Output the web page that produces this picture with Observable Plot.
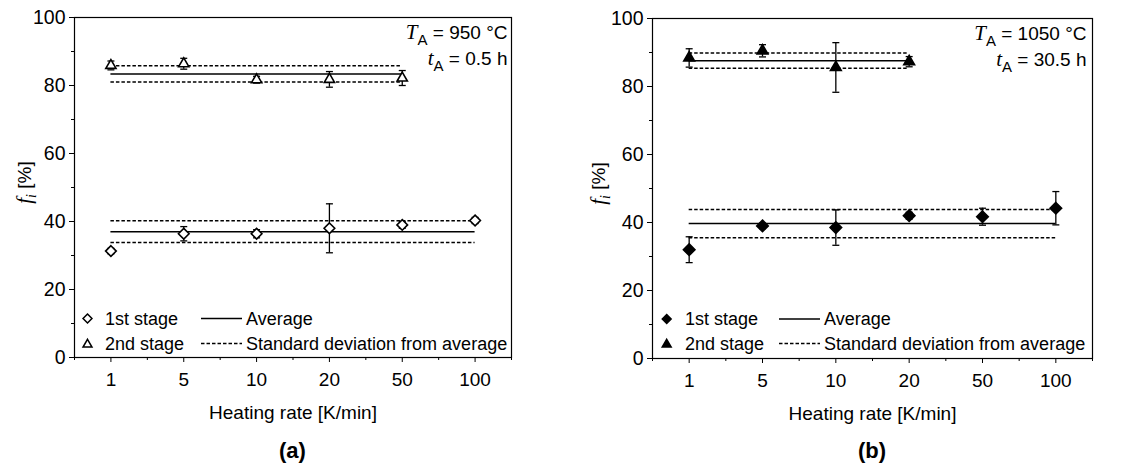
<!DOCTYPE html>
<html><head><meta charset="utf-8">
<script src="https://cdn.jsdelivr.net/npm/d3@7"></script>
<script src="https://cdn.jsdelivr.net/npm/@observablehq/plot@0.6"></script>
<style>
body{margin:0;background:#fff;font-family:"Liberation Sans",Arial,sans-serif;}
#wrap{display:flex;width:1147px;height:472px;overflow:hidden;}
.panel{position:relative;flex:none;}
.cap{text-align:center;font-weight:bold;font-size:22px;line-height:42px;height:42px;box-sizing:border-box;}
.leg{position:absolute;left:0;top:0;pointer-events:none;overflow:visible;}
</style></head><body><div id="wrap"></div>
<script>
// x categories (heating rate, K/min)
const rates = ["1", "5", "10", "20", "50", "100"];
const yTicks = [0, 20, 40, 60, 80, 100];
const yMinor = [10, 30, 50, 70, 90];

// panel (a): T_A = 950 °C, t_A = 0.5 h  (open symbols)
const aFirstRates = ["1", "5", "10", "20", "50", "100"];
const aFirst = [31.3, 36.4, 36.4, 38.0, 39.0, 40.3];
const aFirstErr = [0.8, 2.1, 1.2, 7.2, 1.0, 0.9];
const aFirstAvg = 37.0, aFirstSd = 3.2;
const aSecondRates = ["1", "5", "10", "20", "50"];
const aSecond = [85.9, 86.4, 81.7, 81.8, 82.2];
const aSecondErr = [1.3, 1.6, 1.0, 2.3, 2.2];
const aSecondAvg = 83.4, aSecondSd = 2.4;

// panel (b): T_A = 1050 °C, t_A = 30.5 h  (filled symbols)
const bFirstRates = ["1", "5", "10", "20", "50", "100"];
const bFirst = [32.0, 39.0, 38.5, 42.0, 41.7, 44.2];
const bFirstErr = [3.8, 0.8, 5.2, 1.0, 2.5, 4.9];
const bFirstAvg = 39.7, bFirstSd = 4.15;
const bSecondRates = ["1", "5", "10", "20"];
const bSecond = [88.4, 90.5, 85.6, 87.3];
const bSecondErr = [2.7, 1.8, 7.3, 1.5];
const bSecondAvg = 87.6, bSecondSd = 2.25;

const legendLabels = ["1st stage", "2nd stage", "Average", "Standard deviation from average"];

const SANS = '"Liberation Sans", Arial, sans-serif';
const SERIF = '"Liberation Serif", "Times New Roman", serif';
const NS = "http://www.w3.org/2000/svg";

function rows(rs, vals, errs) {
  return rs.map((r, i) => ({x: rates.indexOf(r), y: vals[i], e: errs[i]}));
}
function lines(rs, avg, sd) {
  const x1 = rates.indexOf(rs[0]), x2 = rates.indexOf(rs[rs.length - 1]);
  return {avg: [{y: avg, x1, x2}], sd: [{y: avg + sd, x1, x2}, {y: avg - sd, x1, x2}]};
}
const capSym = {draw(ctx) { ctx.moveTo(-3.5, 0); ctx.lineTo(3.5, 0); }};

function rich(el, parts) {
  el.textContent = "";
  for (const p of parts) {
    const t = document.createElementNS(NS, "tspan");
    for (const k in p) if (k !== "t") t.setAttribute(k, p[k]);
    t.textContent = p.t;
    el.appendChild(t);
  }
}
function findTexts(root, key) {
  const out = [];
  root.querySelectorAll(`.${key}, [aria-label="${key}"]`).forEach(n => {
    if (n.tagName.toLowerCase() === "text") out.push(n);
    else n.querySelectorAll("text").forEach(t => out.push(t));
  });
  return [...new Set(out)];
}

function panel(cfg) {
  const H = 430;
  const f = rows(cfg.fr, cfg.fv, cfg.fe), s = rows(cfg.sr, cfg.sv, cfg.se);
  const lf = lines(cfg.fr, cfg.fa, cfg.fs), ls = lines(cfg.sr, cfg.sa, cfg.ss);
  const fill = cfg.filled ? "black" : "white";
  const errMarks = (d) => [
    Plot.ruleX(d, {x: "x", y1: r => r.y - r.e, y2: r => r.y + r.e, stroke: "black", strokeWidth: 1.3}),
    Plot.dot(d, {x: "x", y: r => r.y + r.e, symbol: capSym, fill: "none", stroke: "black", strokeWidth: 1.3}),
    Plot.dot(d, {x: "x", y: r => r.y - r.e, symbol: capSym, fill: "none", stroke: "black", strokeWidth: 1.3})
  ];
  const plot = Plot.plot({
    width: cfg.W, height: H,
    marginLeft: cfg.mL, marginRight: cfg.mR, marginTop: cfg.mT, marginBottom: H - cfg.bottom,
    style: {fontFamily: SANS, fontSize: "19px", color: "black", background: "white"},
    x: {type: "linear", domain: [-0.5, 5.5]},
    y: {type: "linear", domain: [0, 100]},
    marks: [
      Plot.axisY({ticks: yTicks, tickSize: 5, tickPadding: 4, label: null, fontSize: 19.5}),
      Plot.axisY({ticks: yMinor, tickSize: 3, tickFormat: () => "", label: null}),
      Plot.axisX({ticks: d3.range(rates.length), tickFormat: i => rates[i], tickSize: 5, tickPadding: 10,
        fontSize: 19, label: "Heating rate [K/min]", labelAnchor: "center", labelArrow: "none", labelOffset: 61}),
      Plot.axisX({ticks: d3.range(rates.length + 1).map(i => i - 0.5), tickSize: 3, tickFormat: () => "", label: null}),
      Plot.ruleY([...lf.avg, ...ls.avg], {y: "y", x1: "x1", x2: "x2", stroke: "black", strokeWidth: 1.5}),
      Plot.ruleY([...lf.sd, ...ls.sd], {y: "y", x1: "x1", x2: "x2", stroke: "black", strokeWidth: 1.5, strokeDasharray: "3.5,2"}),
      ...errMarks(f), ...errMarks(s),
      Plot.dot(f, {x: "x", y: "y", symbol: "diamond2", r: cfg.filled ? 5.2 : 4.8, fill, stroke: "black", strokeWidth: 1.6}),
      Plot.dot(s, {x: "x", y: "y", symbol: "triangle", r: cfg.filled ? 4 : 3.8, fill, stroke: "black", strokeWidth: 1.6}),
      Plot.frame({stroke: "black", strokeWidth: 1.2}),
      Plot.text([cfg.anno[0]], {frameAnchor: "top-right", text: d => d.join(""), textAnchor: "end", lineAnchor: "middle", dx: cfg.annoDx, dy: 15, fontSize: 19, className: "anno"}),
      Plot.text([cfg.anno[1]], {frameAnchor: "top-right", text: d => d.join(""), textAnchor: "end", lineAnchor: "middle", dx: cfg.annoDx, dy: 41, fontSize: 19, className: "anno"}),
      Plot.text(["fi [%]"], {frameAnchor: "left", text: d => d, rotate: -90, textAnchor: "middle", lineAnchor: "middle", dx: cfg.ylabDx, dy: -5, fontSize: 19, className: "ylab"})
    ]
  });
  // rich text: italic serif symbols with subscripts
  findTexts(plot, "anno").forEach((el, i) => {
    const [sym, sub, rest] = cfg.anno[i];
    rich(el, [
      {t: sym, "font-family": SERIF, "font-style": "italic", "font-size": 21},
      {t: sub, "font-family": SANS, "font-size": 15, dy: 6},
      {t: rest, "font-family": SANS, "font-size": 19, dy: -6}
    ]);
  });
  findTexts(plot, "ylab").forEach(el => {
    rich(el, [
      {t: "f", "font-family": SERIF, "font-style": "italic", "font-size": 21},
      {t: "i", "font-family": SERIF, "font-style": "italic", "font-size": 14, dy: 5},
      {t: " [%]", "font-family": SANS, "font-size": 19, dy: -5}
    ]);
  });

  const div = document.createElement("div");
  div.className = "panel";
  div.style.width = cfg.W + "px";
  div.appendChild(plot);
  // legend overlay
  const L = cfg.leg;
  const leg = d3.create("svg").attr("class", "leg").attr("width", cfg.W).attr("height", H)
    .style("font-family", SANS).style("font-size", "18px");
  leg.append("path").attr("transform", `translate(${L.sx},${L.r1})`)
    .attr("d", d3.symbol(d3.symbolDiamond2, Math.PI * 16)()).attr("fill", fill).attr("stroke", "black").attr("stroke-width", 1.5);
  leg.append("path").attr("transform", `translate(${L.sx},${L.r2 + 1})`)
    .attr("d", d3.symbol(d3.symbolTriangle, Math.PI * 11)()).attr("fill", fill).attr("stroke", "black").attr("stroke-width", 1.5);
  leg.append("text").attr("x", L.tx).attr("y", L.r1).attr("dy", "0.35em").text(legendLabels[0]);
  leg.append("text").attr("x", L.tx).attr("y", L.r2).attr("dy", "0.35em").text(legendLabels[1]);
  leg.append("line").attr("x1", L.lx1).attr("x2", L.lx2).attr("y1", L.r1).attr("y2", L.r1).attr("stroke", "black").attr("stroke-width", 1.5);
  leg.append("line").attr("x1", L.lx1).attr("x2", L.lx2).attr("y1", L.r2).attr("y2", L.r2).attr("stroke", "black").attr("stroke-width", 1.5).attr("stroke-dasharray", "3.5,2");
  leg.append("text").attr("x", L.lt).attr("y", L.r1).attr("dy", "0.35em").text(legendLabels[2]);
  leg.append("text").attr("x", L.lt).attr("y", L.r2).attr("dy", "0.35em").text(legendLabels[3]);
  div.appendChild(leg.node());
  const cap = document.createElement("div");
  cap.className = "cap";
  cap.style.paddingLeft = cfg.mL + "px";
  cap.style.paddingRight = cfg.mR + "px";
  cap.textContent = cfg.caption;
  div.appendChild(cap);
  return div;
}

const wrap = document.getElementById("wrap");
wrap.appendChild(panel({
  W: 573, mL: 74, mR: 62, mT: 17, bottom: 357,
  fr: aFirstRates, fv: aFirst, fe: aFirstErr, fa: aFirstAvg, fs: aFirstSd,
  sr: aSecondRates, sv: aSecond, se: aSecondErr, sa: aSecondAvg, ss: aSecondSd,
  filled: false, anno: [["T", "A", " = 950 °C"], ["t", "A", " = 0.5 h"]], annoDx: -4, ylabDx: -50,
  caption: "(a)",
  leg: {sx: 87.5, tx: 105, lx1: 201, lx2: 242, lt: 246, r1: 318.5, r2: 343.5}
}));
wrap.appendChild(panel({
  W: 574, mL: 79, mR: 55, mT: 18, bottom: 358,
  fr: bFirstRates, fv: bFirst, fe: bFirstErr, fa: bFirstAvg, fs: bFirstSd,
  sr: bSecondRates, sv: bSecond, se: bSecondErr, sa: bSecondAvg, ss: bSecondSd,
  filled: true, anno: [["T", "A", " = 1050 °C"], ["t", "A", " = 30.5 h"]], annoDx: -6, ylabDx: -54,
  caption: "(b)",
  leg: {sx: 93.7, tx: 112, lx1: 206, lx2: 247, lt: 251, r1: 319, r2: 343.5}
}));
</script></body></html>
